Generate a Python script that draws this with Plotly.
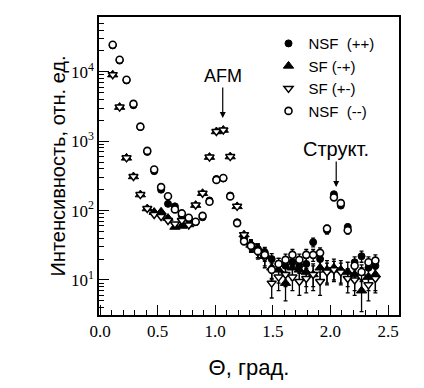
import plotly.graph_objects as go

theta = [0.11, 0.17, 0.23, 0.29, 0.35, 0.41, 0.47, 0.53, 0.59, 0.65,
         0.71, 0.77, 0.83, 0.89, 0.95, 1.01, 1.07, 1.13, 1.19, 1.25,
         1.31, 1.37, 1.43, 1.49, 1.55, 1.61, 1.67, 1.73, 1.79, 1.85,
         1.91, 1.97, 2.03, 2.09, 2.15, 2.21, 2.27, 2.33, 2.39]

nsf_pp = [24000, 14500, 7500, 3300, 1600, 700, 370, 200, 125, 115,
          85, 75, 68, 80, 140, 285, 290, 165, 68, 40,
          32, 28, 25, 20, 17, 16, 18, 16, 17, 35,
          20, 52, 172, 118, 58, 18, 22, 15, 16]
nsf_pp_err = [0, 0, 0, 0, 0, 0, 0, 0, 0, 0,
              0, 0, 0, 0, 0, 0, 0, 0, 0, 0,
              5, 5, 4.5, 4, 3.5, 3.5, 3.5, 3.5, 3.5, 5,
              4, 6, 0, 0, 6, 3.5, 4, 3.5, 3.5]

sf_mp = [9100, 3100, 575, 310, 170, 107, 95, 96, 78, 58,
         60, 63, 120, 178, 590, 1380, 1450, 600, 115, 45,
         32, 27, 22, 15, 14, 9, 15, 14, 13, 12,
         15, 14, 15, 14, 13, 12, 7, 11, 12]
sf_mp_err = [0, 0, 0, 0, 0, 0, 0, 0, 0, 0,
             0, 0, 0, 0, 0, 0, 0, 0, 0, 0,
             6, 6, 6, 5, 5, 4, 5, 5, 5, 5,
             5, 5, 5, 5, 5, 5, 3.5, 4, 5]

sf_pm = [9100, 3100, 575, 310, 170, 107, 88, 82, 72, 64,
         72, 62, 120, 178, 590, 1380, 1450, 600, 115, 45,
         31, 26, 21, 9, 11, 12, 11, 9.5, 10.5, 12,
         9.5, 13, 14, 13, 10.5, 10, 11, 8.5, 10.5]
sf_pm_err = [0, 0, 0, 0, 0, 0, 0, 0, 0, 0,
             0, 0, 0, 0, 0, 0, 0, 0, 0, 0,
             6, 6, 6, 3.5, 4, 4, 4, 3.5, 4, 4,
             3.5, 4.5, 4.5, 4.5, 4, 4, 4, 3.5, 4]

nsf_mm = [24500, 14900, 7700, 3450, 1620, 725, 390, 218, 161, 104,
          91, 79, 69, 84, 134, 277, 295, 160, 66, 36,
          31, 26, 23, 14, 17, 19.5, 23, 19.5, 23, 23,
          24.6, 55, 155, 128, 52, 16, 13, 18, 19]
nsf_mm_err = [0, 0, 0, 0, 0, 0, 0, 0, 0, 0,
              0, 0, 0, 0, 0, 0, 0, 0, 0, 0,
              5, 5, 4.5, 3.5, 3.5, 4, 4.5, 4, 4.5, 4.5,
              4.5, 6, 0, 0, 6, 3.5, 3.5, 3.5, 4]

labels = ["NSF  (++)", "SF (-+)", "SF (+-)", "NSF  (--)"]

y_tickvals = [10, 100, 1000, 10000]
y_ticktext = ["10<sup>1</sup>", "10<sup>2</sup>", "10<sup>3</sup>", "10<sup>4</sup>"]
x_tickvals = [0.0, 0.5, 1.0, 1.5, 2.0, 2.5]
x_ticktext = ["0.0", "0.5", "1.0", "1.5", "2.0", "2.5"]

err_style = dict(type="data", thickness=1.3, width=2, color="black")

fig = go.Figure()
fig.add_trace(go.Scatter(
    x=theta, y=nsf_pp, mode="markers", name=labels[0],
    marker=dict(symbol="circle", size=7, color="black", line=dict(color="black", width=1)),
    error_y=dict(array=nsf_pp_err, **err_style)))
fig.add_trace(go.Scatter(
    x=theta, y=sf_mp, mode="markers", name=labels[1],
    marker=dict(symbol="triangle-up", size=9, color="black", line=dict(color="black", width=1)),
    error_y=dict(array=sf_mp_err, **err_style)))
fig.add_trace(go.Scatter(
    x=theta, y=sf_pm, mode="markers", name=labels[2],
    marker=dict(symbol="triangle-down", size=8, color="white", line=dict(color="black", width=1.5)),
    error_y=dict(array=sf_pm_err, **err_style)))
fig.add_trace(go.Scatter(
    x=theta, y=nsf_mm, mode="markers", name=labels[3],
    marker=dict(symbol="circle", size=7, color="white", line=dict(color="black", width=1.6)),
    error_y=dict(array=nsf_mm_err, **err_style)))

tickfont = dict(family="Liberation Serif", size=17, color="black")

fig.update_layout(
    template="none",
    width=424, height=388,
    margin=dict(l=99, r=25, t=17, b=73),
    paper_bgcolor="white", plot_bgcolor="white",
    showlegend=True,
    legend=dict(x=0.565, y=0.966, xanchor="left", yanchor="top",
                bgcolor="rgba(0,0,0,0)", borderwidth=0,
                font=dict(family="Liberation Sans", size=15, color="black"),
                itemwidth=30, tracegroupgap=0),
    xaxis=dict(range=[-0.009, 2.595], tickvals=x_tickvals, ticktext=x_ticktext,
               automargin=True,
               ticks="inside", ticklen=10, tickwidth=1.2, tickcolor="black",
               minor=dict(ticks="inside", ticklen=5, dtick=0.1, tick0=0, tickcolor="black", tickwidth=1),
               showline=True, linecolor="black", linewidth=1.5, mirror=True,
               showgrid=False, zeroline=False, tickfont=tickfont,
               title=dict(text="Θ, град.", font=dict(family="Liberation Sans", size=22, color="black"),
                          standoff=19)),
    yaxis=dict(type="log", range=[0.495, 4.79], tickvals=y_tickvals, ticktext=y_ticktext,
               automargin=True,
               ticks="inside", ticklen=10, tickwidth=1.2, tickcolor="black",
               minor=dict(ticks="inside", ticklen=5, dtick="D1", tickcolor="black", tickwidth=1),
               showline=True, linecolor="black", linewidth=1.5, mirror=True,
               showgrid=False, zeroline=False, tickfont=tickfont,
               title=dict(text="Интенсивность, отн. ед.",
                          font=dict(family="Liberation Sans", size=20, color="black"),
                          standoff=0)),
    annotations=[
        dict(x=1.065, y=3.336, xref="x", yref="y", text="AFM", showarrow=True,
             ax=0, ay=-42, arrowhead=2, arrowsize=1, arrowwidth=1.2, arrowcolor="black",
             font=dict(family="Liberation Sans", size=18, color="black")),
        dict(x=2.05, y=2.34, xref="x", yref="y", text="Структ.", showarrow=True,
             ax=0, ay=-38, arrowhead=2, arrowsize=1, arrowwidth=1.2, arrowcolor="black",
             font=dict(family="Liberation Sans", size=20, color="black")),
    ],
)

fig.write_html("out.html", config={"displayModeBar": False},
               post_script="document.body.style.margin='0';")
